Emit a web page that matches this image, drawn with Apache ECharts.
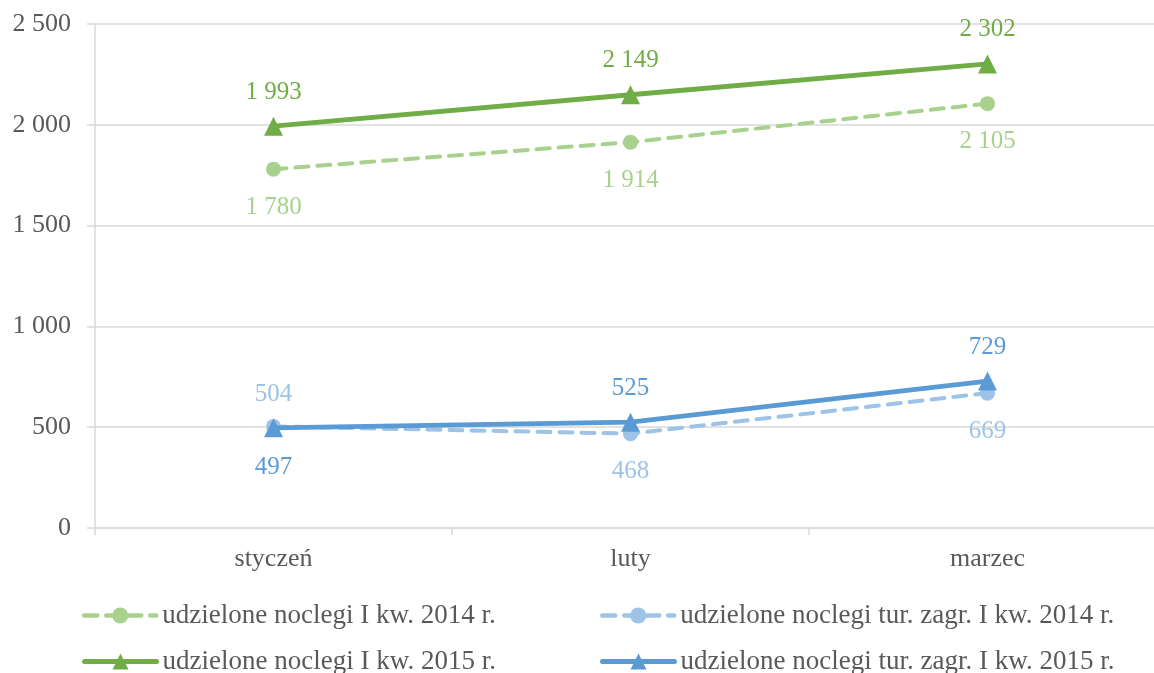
<!DOCTYPE html>
<html>
<head>
<meta charset="utf-8">
<script src="https://cdn.jsdelivr.net/npm/echarts@6/dist/echarts.min.js"></script>
<style>
  html, body { margin: 0; padding: 0; background: #fff; }
  #chart { width: 1154px; height: 673px; }
</style>
</head>
<body>
<div id="chart"></div>
<script>
// dane
var months = ['styczeń', 'luty', 'marzec'];
var yTicks = [0, 500, 1000, 1500, 2000, 2500];
var names = [
  'udzielone noclegi I kw. 2014 r.',
  'udzielone noclegi I kw. 2015 r.',
  'udzielone noclegi tur. zagr. I kw. 2014 r.',
  'udzielone noclegi tur. zagr. I kw. 2015 r.'
];
var all2014 = [1780, 1914, 2105];
var all2015 = [1993, 2149, 2302];
var foreign2014 = [504, 468, 669];
var foreign2015 = [497, 525, 729];

var colors = ['#a9d18e', '#70ad47', '#9dc3e6', '#5b9bd5'];
var font = '"Liberation Serif", "Times New Roman", serif';

function fmt(v) {
  return String(v).replace(/\B(?=(\d{3})+(?!\d))/g, ' ');
}

// label placement per point
function withLabels(values, places) {
  return values.map(function (v, i) {
    return {value: v, label: {position: places[i], distance: places[i] === 'top' ? 12 : 18}};
  });
}

function lineSeries(name, values, places, color, dashed, symbol) {
  return {
    name: name,
    type: 'line',
    data: withLabels(values, places),
    symbol: symbol,
    symbolSize: symbol === 'triangle' ? 19 : 15,
    lineStyle: {
      color: color,
      width: dashed ? 4 : 4.8,
      type: dashed ? [13, 9] : 'solid',
      cap: 'round'
    },
    itemStyle: {color: color},
    label: {
      show: true,
      color: color,
      fontFamily: font,
      fontSize: 25,
      formatter: function (p) { return fmt(p.value); }
    },
    emphasis: {disabled: true},
    z: dashed ? 2 : 3
  };
}

// one legend per item, placed like the original
function legendItem(i, left, top, dashed) {
  return {
    left: left, top: top, padding: 0,
    itemWidth: 72, itemHeight: 20, itemGap: 0,
    data: [names[i]],
    lineStyle: {width: dashed ? 4.5 : 5, type: dashed ? [13, 9] : 'solid', cap: 'round'},
    textStyle: {fontFamily: font, fontSize: 27, color: '#595959', padding: [0, 0, 0, 1]}
  };
}

var myChart = echarts.init(document.getElementById('chart'));
var option = {
  animation: false,
  grid: {left: 95, top: 24, width: 1071, bottom: 145, outerBoundsMode: 'none'},
  legend: [
    legendItem(0, 82, 602, true),
    legendItem(1, 82, 648, false),
    legendItem(2, 600, 602, true),
    legendItem(3, 600, 648, false)
  ],
  xAxis: {
    type: 'category',
    data: months,
    boundaryGap: true,
    axisLine: {lineStyle: {color: '#d9d9d9', width: 1.5}},
    axisTick: {show: true, length: 7, lineStyle: {color: '#d9d9d9', width: 1.5}},
    axisLabel: {fontFamily: font, fontSize: 26, color: '#595959', margin: 18}
  },
  yAxis: {
    type: 'value',
    min: yTicks[0],
    max: yTicks[yTicks.length - 1],
    interval: yTicks[1] - yTicks[0],
    axisLine: {show: true, lineStyle: {color: '#d9d9d9', width: 1.5}},
    axisTick: {show: true, length: 8, lineStyle: {color: '#d9d9d9', width: 1.5}},
    splitLine: {lineStyle: {color: '#d9d9d9', width: 1.5}},
    axisLabel: {
      fontFamily: font, fontSize: 26, color: '#595959', margin: 24,
      formatter: function (v) { return fmt(v); }
    }
  },
  series: [
    lineSeries(names[0], all2014, ['bottom', 'bottom', 'bottom'], colors[0], true, 'circle'),
    lineSeries(names[1], all2015, ['top', 'top', 'top'], colors[1], false, 'triangle'),
    lineSeries(names[2], foreign2014, ['top', 'bottom', 'bottom'], colors[2], true, 'circle'),
    lineSeries(names[3], foreign2015, ['bottom', 'top', 'top'], colors[3], false, 'triangle')
  ]
};
myChart.setOption(option);
</script>
</body>
</html>
